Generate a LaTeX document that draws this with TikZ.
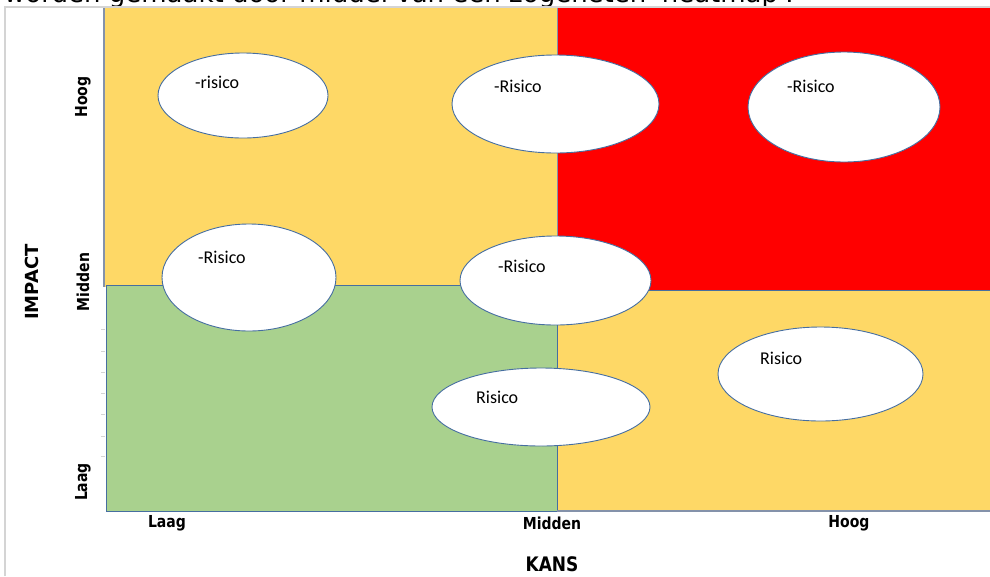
\documentclass[tikz,border=0pt]{standalone}
\usepackage{fontspec}
\setmainfont{Carlito}
\newfontfamily\verd{DejaVu Sans}
\newfontfamily\tickf{DejaVu Sans}[FakeStretch=0.85]
\usetikzlibrary{shapes.geometric}
\definecolor{hmyellow}{RGB}{254,216,102}
\definecolor{hmred}{RGB}{255,0,0}
\definecolor{hmgreen}{RGB}{169,209,142}
\definecolor{hmedge}{RGB}{70,110,160}
\definecolor{axgray}{RGB}{132,146,170}
\definecolor{framegray}{RGB}{212,212,212}
\begin{document}
\begin{tikzpicture}[x=1pt,y=-1pt,
  risk/.style={ellipse, draw=hmedge, fill=white, line width=0.9pt, inner sep=0pt},
  risktext/.style={anchor=base west, inner sep=0pt, font=\fontsize{18}{20}\selectfont},
  tick/.style={inner sep=0pt, font=\tickf\bfseries\fontsize{16.5}{18}\selectfont},
  axtitle/.style={inner sep=0pt, font=\verd\bfseries\fontsize{18}{20}\selectfont}]
\useasboundingbox (0,0) rectangle (990,576);
\clip (0,0) rectangle (990,576);
\fill[white] (0,0) rectangle (990,576);
% title line, cut off at the top
\node[anchor=base west, inner sep=0pt, font=\verd\fontsize{26}{30}\selectfont] (title) at (4,2.5) {worden gemaakt door middel van een zogeheten 'heatmap'.};
% frame
\draw[framegray, line width=1.2pt] (5,576) -- (5,7) -- (990,7);
% quadrants
\fill[hmyellow] (104,8) rectangle (557,287);
\fill[hmred] (557,8) rectangle (990,290);
\fill[hmyellow] (557,290) rectangle (990,511);
\fill[hmgreen] (106,285) rectangle (557,511);
\draw[axgray, line width=1.2pt] (104,8) -- (104,287);
\draw[axgray, line width=1pt] (557,8) -- (557,290);
\draw[hmedge, line width=1pt] (106,285) rectangle (557,511);
\draw[hmedge, line width=1pt] (557,290) -- (990,290);
\draw[axgray, line width=1.6pt] (557,511) -- (990,511);
% faint ticks
\foreach \yy in {329,351,372,393,414,436,456}
  \draw[framegray, line width=0.6pt] (101,\yy) -- (105,\yy);
% risks
\node[risk, minimum width=170pt, minimum height=85pt] (e1) at (243,95.5) {};
\node[risk, minimum width=207pt, minimum height=98pt] (e2) at (555.5,104) {};
\node[risk, minimum width=192pt, minimum height=110pt] (e3) at (844,107) {};
\node[risk, minimum width=174pt, minimum height=107pt] (e4) at (249,277.5) {};
\node[risk, minimum width=191pt, minimum height=89pt] (e5) at (555.5,280.5) {};
\node[risk, minimum width=218pt, minimum height=78pt] (e6) at (541,407) {};
\node[risk, minimum width=205pt, minimum height=94pt] (e7) at (820.5,374) {};
\node[risktext] (t1) at (195,88) {-risico};
\node[risktext] (t2) at (494,92) {-Risico};
\node[risktext] (t3) at (787,92) {-Risico};
\node[risktext] (t4) at (198,263) {-Risico};
\node[risktext] (t5) at (498,272) {-Risico};
\node[risktext] (t6) at (476,403) {Risico};
\node[risktext] (t7) at (760,364) {Risico};
% axis labels
\node[tick, rotate=90] (yh) at (83,97) {Hoog};
\node[tick, rotate=90] (ym) at (83,282) {Midden};
\node[tick, rotate=90] (yl) at (83,482) {Laag};
\node[axtitle, rotate=90] (impact) at (32,282) {IMPACT};
\node[tick] (xl) at (167,523) {Laag};
\node[tick] (xm) at (552,523) {Midden};
\node[tick] (xh) at (849,523) {Hoog};
\node[tick, font=\tickf\bfseries\fontsize{20}{22}\selectfont] (kans) at (552,564) {KANS};
\end{tikzpicture}
\end{document}
